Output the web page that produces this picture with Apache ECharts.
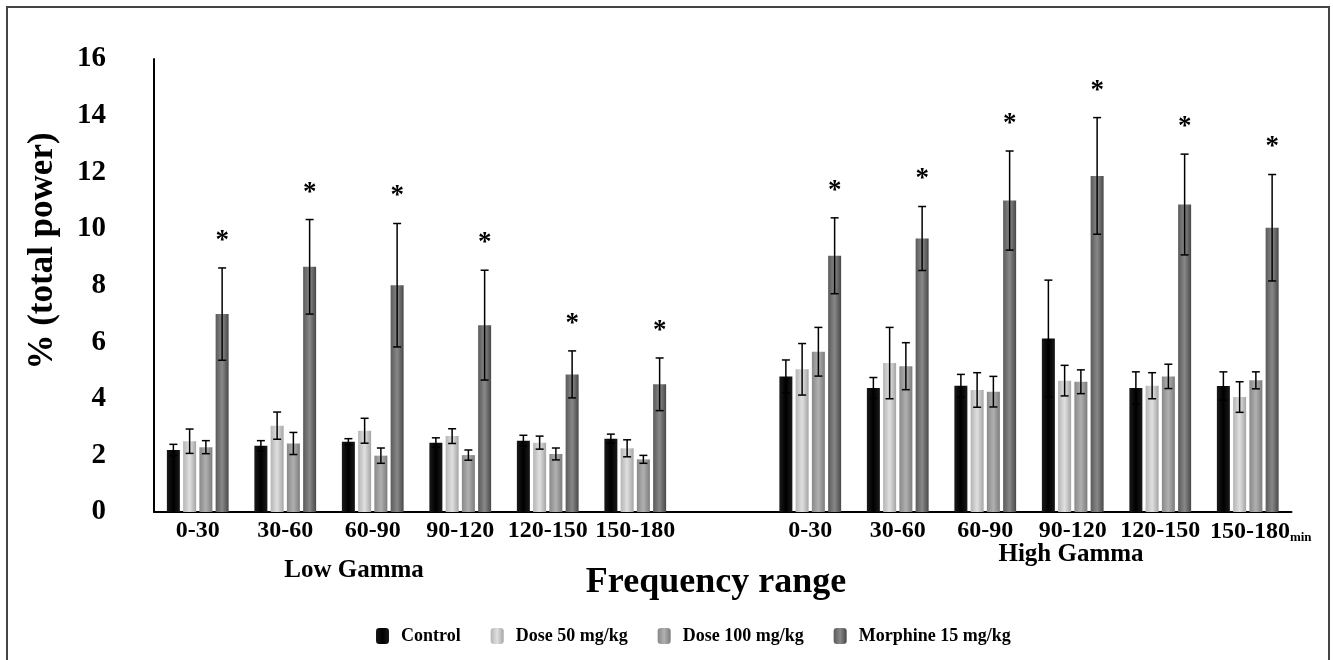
<!DOCTYPE html>
<html>
<head>
<meta charset="utf-8">
<script src="https://cdn.jsdelivr.net/npm/echarts@6/dist/echarts.min.js"></script>
<style>
  html, body { margin: 0; padding: 0; background: #fff; }
  #charts { width: 1333px; height: 660px; }
</style>
</head>
<body>
<div id="charts"></div>
<script>
  // time windows (min), same for both bands
  var windows = ['0-30', '30-60', '60-90', '90-120', '120-150', '150-180'];
  var yTicks = [0, 2, 4, 6, 8, 10, 12, 14, 16];
  var groups = ['Control', 'Dose 50 mg/kg', 'Dose 100 mg/kg', 'Morphine 15 mg/kg'];

  // Low Gamma means / SEM
  var lowControl = [2.19, 2.34, 2.48, 2.45, 2.52, 2.59];
  var lowControlErr = [0.20, 0.18, 0.11, 0.17, 0.19, 0.16];
  var lowDose50 = [2.50, 3.05, 2.87, 2.68, 2.45, 2.25];
  var lowDose50Err = [0.43, 0.48, 0.44, 0.26, 0.23, 0.30];
  var lowDose100 = [2.29, 2.42, 1.99, 2.01, 2.05, 1.86];
  var lowDose100Err = [0.23, 0.39, 0.27, 0.18, 0.21, 0.14];
  var lowMorphine = [6.99, 8.66, 8.01, 6.60, 4.86, 4.51];
  var lowMorphineErr = [1.63, 1.67, 2.18, 1.94, 0.83, 0.93];

  // High Gamma means / SEM
  var highControl = [4.79, 4.38, 4.46, 6.13, 4.38, 4.45];
  var highControlErr = [0.58, 0.37, 0.40, 2.06, 0.57, 0.50];
  var highDose50 = [5.04, 5.26, 4.31, 4.64, 4.46, 4.06];
  var highDose50Err = [0.91, 1.26, 0.61, 0.54, 0.46, 0.54];
  var highDose100 = [5.66, 5.15, 4.25, 4.60, 4.79, 4.65];
  var highDose100Err = [0.86, 0.83, 0.54, 0.42, 0.43, 0.30];
  var highMorphine = [9.05, 9.66, 11.00, 11.87, 10.86, 10.04];
  var highMorphineErr = [1.34, 1.13, 1.75, 2.06, 1.78, 1.88];

  // all morphine bars are marked significant
  var lowStar = [true, true, true, true, true, true];
  var highStar = [true, true, true, true, true, true];

  var serif = 'Liberation Serif';
  // one empty category between the two bands
  var categories = windows.concat([''], windows);

  function join(a, b) { return a.concat([null], b); }

  var means = [
    join(lowControl, highControl),
    join(lowDose50, highDose50),
    join(lowDose100, highDose100),
    join(lowMorphine, highMorphine)
  ];
  var errs = [
    join(lowControlErr, highControlErr),
    join(lowDose50Err, highDose50Err),
    join(lowDose100Err, highDose100Err),
    join(lowMorphineErr, highMorphineErr)
  ];
  var stars = join(lowStar, highStar);

  function grad(a, b, c) {
    return new echarts.graphic.LinearGradient(0, 0, 1, 0, [
      {offset: 0, color: a}, {offset: 0.5, color: b}, {offset: 1, color: c}
    ]);
  }
  var fills = [
    grad('#1a1a1a', '#000000', '#1a1a1a'),
    grad('#b4b4b4', '#e0e0e0', '#a4a4a4'),
    grad('#888888', '#b0b0b0', '#7c7c7c'),
    grad('#5a5a5a', '#888888', '#484848')
  ];

  var barW = 13, step = 16.25;
  var offsets = [-1.5 * step, -0.5 * step, 0.5 * step, 1.5 * step];

  function errRender(k) {
    return function (params, api) {
      var i = api.value(0), m = api.value(1), s = api.value(2);
      if (m == null || isNaN(m)) return;
      var top = api.coord([i, m + s]);
      var bot = api.coord([i, m - s]);
      var x = top[0] + offsets[k];
      var st = {stroke: '#000', lineWidth: 1.5};
      var kids = [
        {type: 'line', shape: {x1: x, y1: top[1], x2: x, y2: bot[1]}, style: st},
        {type: 'line', shape: {x1: x - 4, y1: top[1], x2: x + 4, y2: top[1]}, style: st},
        {type: 'line', shape: {x1: x - 4, y1: bot[1], x2: x + 4, y2: bot[1]}, style: st}
      ];
      if (k === 3 && stars[i]) {
        kids.push({
          type: 'text',
          style: {
            x: x, y: top[1] - 27, text: '*', fill: '#000',
            font: 'bold 27px ' + serif, align: 'center', verticalAlign: 'middle'
          }
        });
      }
      return {type: 'group', children: kids};
    };
  }

  var series = [];
  for (var k = 0; k < 4; k++) {
    series.push({
      name: groups[k],
      type: 'bar',
      barWidth: barW,
      barGap: '25%',
      data: means[k],
      itemStyle: {color: fills[k]}
    });
  }
  for (var k2 = 0; k2 < 4; k2++) {
    var d = [];
    for (var i = 0; i < categories.length; i++) {
      if (means[k2][i] != null) d.push([i, means[k2][i], errs[k2][i]]);
    }
    series.push({
      type: 'custom',
      renderItem: errRender(k2),
      encode: {x: 0, y: 1},
      data: d,
      z: 5,
      silent: true
    });
  }

  var chart = echarts.init(document.getElementById('charts'));
  chart.setOption({
    animation: false,
    backgroundColor: '#fff',
    grid: {left: 154, right: 41.5, top: 59, bottom: 148},
    legend: {
      data: groups,
      left: 371,
      top: 622,
      itemWidth: 13,
      itemHeight: 16,
      itemGap: 30,
      textStyle: {fontFamily: serif, fontWeight: 'bold', fontSize: 18, color: '#000', padding: [0, 0, 0, 7]}
    },
    xAxis: {
      type: 'category',
      data: categories,
      axisLine: {lineStyle: {color: '#000', width: 2}},
      axisTick: {show: false},
      axisLabel: {
        interval: 0,
        margin: 7,
        fontFamily: serif, fontWeight: 'bold', fontSize: 24, color: '#000',
        formatter: function (v, idx) {
          return idx === categories.length - 1 ? '{a|' + v + '}{s|min}' : v;
        },
        rich: {
          a: {fontFamily: serif, fontWeight: 'bold', fontSize: 24, color: '#000', padding: [0, 0, 0, 26]},
          s: {fontFamily: serif, fontWeight: 'bold', fontSize: 13, color: '#000', padding: [12, 0, 0, 0]}
        }
      }
    },
    yAxis: {
      type: 'value',
      min: yTicks[0],
      max: yTicks[yTicks.length - 1],
      interval: 2,
      splitLine: {show: false},
      axisTick: {show: false},
      axisLine: {show: true, lineStyle: {color: '#000', width: 2}},
      axisLabel: {margin: 48, fontFamily: serif, fontWeight: 'bold', fontSize: 29, color: '#000'}
    },
    graphic: [
      {type: 'rect', shape: {x: 7, y: 7, width: 1322, height: 680},
        style: {fill: 'none', stroke: '#444', lineWidth: 2}, silent: true},
      {type: 'text', x: 43, y: 251, rotation: Math.PI / 2,
        style: {text: '% (total power)', font: 'bold 35px ' + serif, fill: '#000',
          align: 'center', verticalAlign: 'middle'}},
      {type: 'text', x: 354, y: 571,
        style: {text: 'Low Gamma', font: 'bold 25px ' + serif, fill: '#000',
          align: 'center', verticalAlign: 'middle'}},
      {type: 'text', x: 1071, y: 555,
        style: {text: 'High Gamma', font: 'bold 25px ' + serif, fill: '#000',
          align: 'center', verticalAlign: 'middle'}},
      {type: 'text', x: 716, y: 583,
        style: {text: 'Frequency range', font: 'bold 36px ' + serif, fill: '#000',
          align: 'center', verticalAlign: 'middle'}}
    ],
    series: series
  });
</script>
</body>
</html>
